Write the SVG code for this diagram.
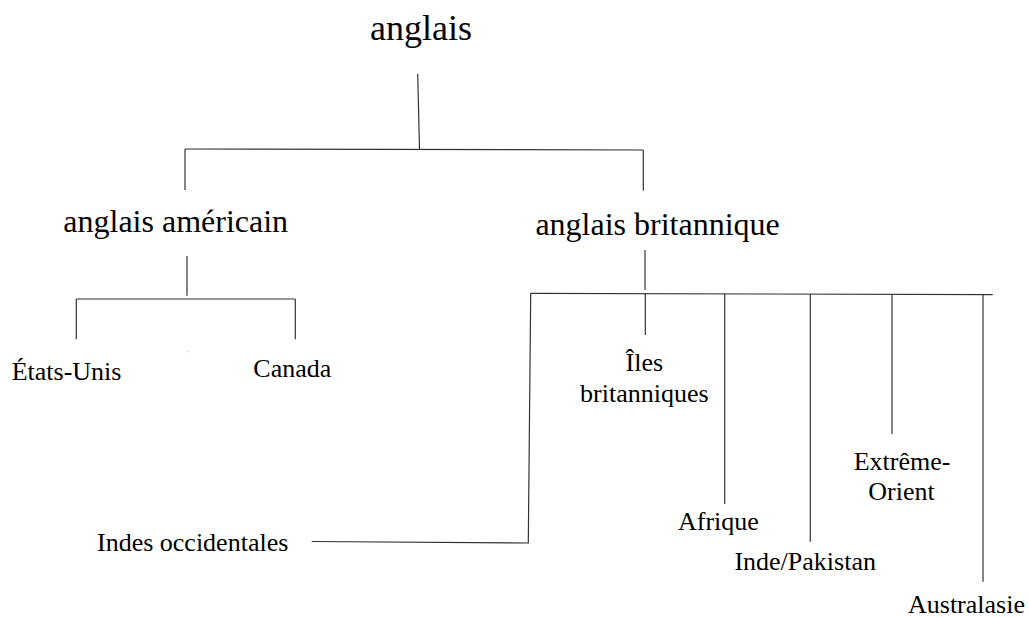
<svg xmlns="http://www.w3.org/2000/svg" width="1029" height="617" viewBox="0 0 1029 617">
<style>
  text { font-family: "Liberation Serif", "Times New Roman", serif; fill: #000; }
  .l0 { font-size: 36px; }
  .l1 { font-size: 32px; }
  .l2 { font-size: 26px; }
  .c { text-anchor: middle; }
  #connectors path { fill: none; stroke: #333; stroke-width: 1.2; }
</style>
<rect width="1029" height="617" fill="#fff"/>
<g id="connectors">
  <path d="M417.7 74 L419.5 149"/>
  <path d="M185 149 L643.3 150"/>
  <path d="M185 149 V190"/>
  <path d="M643.3 150 V190.7"/>
  <path d="M187 256 V295.7"/>
  <path d="M76.3 299 H295.3"/>
  <path d="M76.3 299 V339.3"/>
  <path d="M295.3 299 V339.3"/>
  <path d="M645 250 V290"/>
  <path d="M530.7 293.3 L992.7 294.7"/>
  <path d="M530.7 293.3 L528.3 543 L311.7 541.5"/>
  <path d="M645.3 293.6 V335"/>
  <path d="M724.7 293.8 V504"/>
  <path d="M810.3 294 V541.7"/>
  <path d="M892 294.2 V434"/>
  <path d="M983 294.5 V581.7"/>
</g>
<rect x="187.8" y="351.2" width="1" height="1" fill="#999"/>
<g id="n-anglais"><text class="l0" x="370" y="40">anglais</text></g>
<g id="n-americain"><text class="l1" x="63.3" y="232.3">anglais américain</text></g>
<g id="n-britannique"><text class="l1" x="535.4" y="235">anglais britannique</text></g>
<g id="n-etats-unis"><text class="l2" x="11.7" y="380">États-Unis</text></g>
<g id="n-canada"><text class="l2" x="253.3" y="376.7">Canada</text></g>
<g id="n-iles"><text class="l2 c" x="644.3" y="370.7">Îles</text><text class="l2 c" x="644.3" y="401.7">britanniques</text></g>
<g id="n-afrique"><text class="l2" x="678" y="530">Afrique</text></g>
<g id="n-inde"><text class="l2" x="734.4" y="570">Inde/Pakistan</text></g>
<g id="n-extreme"><text class="l2 c" x="902" y="470">Extrême-</text><text class="l2 c" x="901.5" y="500">Orient</text></g>
<g id="n-australasie"><text class="l2" x="908" y="612.5">Australasie</text></g>
<g id="n-indes"><text class="l2" x="97" y="551">Indes occidentales</text></g>
</svg>
